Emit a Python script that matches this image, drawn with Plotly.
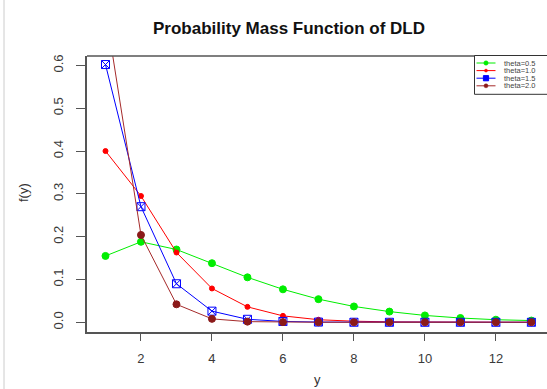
import plotly.graph_objects as go

y_vals = list(range(1, 14))
theta_05 = [0.155, 0.188, 0.170, 0.138, 0.105, 0.077, 0.054, 0.037, 0.025, 0.016, 0.010, 0.006, 0.004]
theta_10 = [0.400, 0.295, 0.163, 0.079, 0.036, 0.015, 0.006, 0.0025, 0.001, 0.0004, 0.0002, 0.0001, 0.0]
theta_15 = [0.602, 0.270, 0.090, 0.026, 0.007, 0.002, 0.0005, 0.0001, 0.0, 0.0, 0.0, 0.0, 0.0]
theta_20 = [0.730, 0.204, 0.042, 0.008, 0.0015, 0.0003, 0.0001, 0.0, 0.0, 0.0, 0.0, 0.0, 0.0]
names = ["theta=0.5", "theta=1.0", "theta=1.5", "theta=2.0"]
x_ticks = [2, 4, 6, 8, 10, 12]
y_ticks = [0.0, 0.1, 0.2, 0.3, 0.4, 0.5, 0.6]

W, H = 547, 389
L, R, T, B = 87, 0, 56, 57
PW, PH = W - L - R, H - T - B

def px(xp):
    return (xp - L) / PW

def py(yp):
    return (H - B - yp) / PH

colors = ["#00ee00", "#ff0000", "#0000ff", "#a52a2a"]
mcolors = ["#00ee00", "#ff0000", "#0000ff", "#8b1a1a"]
sizes = [7, 5, 8, 7]
symbols = ["circle", "circle", "square-x-open", "circle"]
series = [theta_05, theta_10, theta_15, theta_20]

fig = go.Figure()
for nm, s, c, mc, sz, sym in zip(names, series, colors, mcolors, sizes, symbols):
    fig.add_trace(go.Scatter(x=y_vals, y=s, name=nm, mode="lines+markers",
                             line=dict(color=c, width=1),
                             marker=dict(color=mc, size=sz, symbol=sym,
                                         line=dict(width=1, color=mc)),
                             showlegend=False))

fig.update_layout(
    width=W, height=H,
    margin=dict(l=L, r=R, t=T, b=B),
    paper_bgcolor="white", plot_bgcolor="white",
    font=dict(family="Liberation Sans, Arial, sans-serif", color="#3a3a3a", size=13),
    title=dict(text="<b>Probability Mass Function of DLD</b>", x=289 / W, xanchor="center",
               xref="container", y=1 - 28 / H, yanchor="middle",
               font=dict(size=17, color="#111111")),
    showlegend=False,
)
fig.update_xaxes(range=[0.479, 13.44], tickvals=x_ticks, ticks="outside", ticklen=7,
                 tickcolor="#555555", showline=True, linecolor="#555555", linewidth=1.5,
                 mirror=False, showgrid=False, zeroline=False, ticklabelstandoff=7,
                 automargin=False)
fig.update_yaxes(range=[-0.0227, 0.622], tickvals=y_ticks, tickformat=".1f",
                 ticks="outside", ticklen=9, tickangle=-90, tickcolor="#555555",
                 showline=True, linecolor="#555555", linewidth=1.5, mirror=False,
                 showgrid=False, zeroline=False, ticklabelstandoff=8, automargin=False)

# top border of the plot box
fig.add_shape(type="line", xref="paper", yref="paper", x0=0, x1=1.01, y0=1, y1=1,
              line=dict(color="#555555", width=1.5))
# left edge of screenshot frame
fig.add_shape(type="line", xref="paper", yref="paper", x0=px(4), x1=px(4), y0=-1, y1=2,
              line=dict(color="#cccccc", width=1))

# axis titles
fig.add_annotation(text="f(y)", xref="paper", yref="paper", x=px(23), y=py(193),
                   textangle=-90, showarrow=False, font=dict(size=13, color="#333333"),
                   xanchor="center", yanchor="middle")
fig.add_annotation(text="y", xref="paper", yref="paper", x=px(317), y=py(380),
                   showarrow=False, font=dict(size=13, color="#333333"),
                   xanchor="center", yanchor="middle")

# legend box drawn manually
fig.add_shape(type="rect", xref="paper", yref="paper", x0=px(474.5), x1=px(560),
              y0=py(94.3), y1=py(55.5), line=dict(color="#333333", width=1),
              fillcolor="white", layer="above")
rows = [63.0, 70.6, 78.2, 85.8]
for nm, c, mc, yy, i in zip(names, colors, mcolors, rows, range(4)):
    fig.add_shape(type="line", xref="paper", yref="paper", x0=px(476.5), x1=px(495.5),
                  y0=py(yy), y1=py(yy), line=dict(color=c, width=1), layer="above")
    r = [2.2, 1.5, 2.6, 2.0][i]
    if i == 2:
        fig.add_shape(type="rect", xref="paper", yref="paper", x0=px(486 - r), x1=px(486 + r),
                      y0=py(yy + r), y1=py(yy - r), line=dict(color=mc, width=1),
                      fillcolor=mc, layer="above")
    else:
        fig.add_shape(type="circle", xref="paper", yref="paper", x0=px(486 - r), x1=px(486 + r),
                      y0=py(yy + r), y1=py(yy - r), line=dict(color=mc, width=0.5),
                      fillcolor=mc, layer="above")
    fig.add_annotation(text=nm, xref="paper", yref="paper", x=px(502), y=py(yy),
                       xanchor="left", yanchor="middle", showarrow=False,
                       font=dict(size=7.5, color="#444444"))

fig.write_html("out.html", config={"displayModeBar": False},
               post_script="document.body.style.margin='0';document.body.style.overflow='hidden';")
